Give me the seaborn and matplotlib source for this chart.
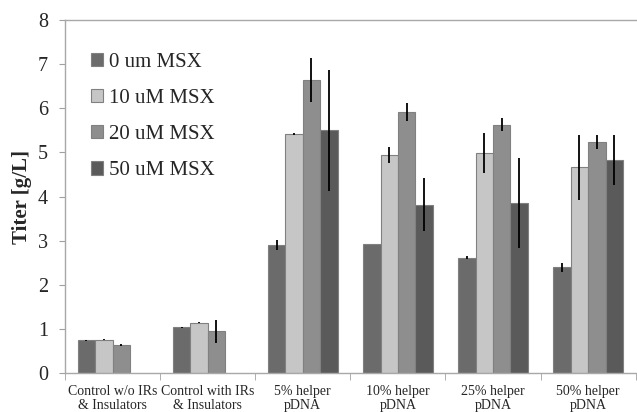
import numpy as np
import pandas as pd
import seaborn as sns
import matplotlib.pyplot as plt
from matplotlib.patches import Patch

# groups on the x axis
groups = ['Control w/o IRs\n& Insulators', 'Control with IRs\n& Insulators',
          '5% helper\npDNA', '10% helper\npDNA', '25% helper\npDNA', '50% helper\npDNA']
levels = ['0 um MSX', '10 uM MSX', '20 uM MSX', '50 uM MSX']

# titer values (g/L), NaN = not measured
titer_0 = [0.74, 1.03, 2.90, 2.92, 2.61, 2.39]
titer_10 = [0.75, 1.14, 5.42, 4.94, 4.99, 4.66]
titer_20 = [0.63, 0.94, 6.65, 5.92, 5.63, 5.24]
titer_50 = [np.nan, np.nan, 5.50, 3.81, 3.85, 4.83]

# error bar half-lengths
err_0 = [0.01, 0.02, 0.12, 0.0, 0.03, 0.10]
err_10 = [0.01, 0.01, 0.02, 0.18, 0.45, 0.74]
err_20 = [0.03, 0.27, 0.50, 0.20, 0.14, 0.16]
err_50 = [np.nan, np.nan, 1.38, 0.60, 1.02, 0.57]

colors = ['#6b6b6b', '#c6c6c6', '#8e8e8e', '#5a5a5a']

rows = []
for lev, vals, errs in zip(levels, [titer_0, titer_10, titer_20, titer_50],
                           [err_0, err_10, err_20, err_50]):
    for g, v, e in zip(groups, vals, errs):
        rows.append({'group': g, 'level': lev, 'titer': v, 'err': e})
df = pd.DataFrame(rows).dropna()

sns.set_style('white')
plt.rcParams['font.family'] = ['Liberation Serif', 'DejaVu Serif']

fig, ax = plt.subplots(figsize=(6.37, 4.12), dpi=100)
fig.subplots_adjust(left=0.102, right=0.998, top=0.951, bottom=0.095)

sns.barplot(data=df, x='group', y='titer', hue='level', order=groups,
            hue_order=levels, palette=colors, errorbar=None, width=0.73,
            edgecolor='#808080', linewidth=0.8, legend=False, ax=ax)

# error bars on top of each bar
for lev, cont in zip(levels, ax.containers):
    sub = df[df['level'] == lev].set_index('group').reindex(
        [g for g in groups if g in df[df['level'] == lev]['group'].values])
    for bar, e in zip(cont, sub['err']):
        if e > 0:
            ax.errorbar(bar.get_x() + bar.get_width() / 2, bar.get_height(),
                        yerr=e, fmt='none', ecolor='black', elinewidth=1.3,
                        capsize=0)

ax.set_ylim(0, 8)
ax.set_xlim(-0.5, len(groups) - 0.5)
ax.set_yticks(range(0, 9))
ax.tick_params(axis='y', labelsize=14.5, length=4.3, color='#a0a0a0', direction='out',
               left=True, pad=8)
ax.tick_params(axis='x', which='major', labelsize=10, length=0, pad=9)
ax.set_xticks(np.arange(-0.5, len(groups), 1), minor=True)
ax.tick_params(axis='x', which='minor', length=5, color='#a0a0a0',
               direction='out', bottom=True)
for lbl in ax.get_xticklabels():
    lbl.set_linespacing(1.05)
ax.set_xlabel('')
ax.set_ylabel('Titer [g/L]', fontsize=15, fontweight='bold', labelpad=4)

for s in ['left', 'bottom', 'top']:
    ax.spines[s].set_color('#a8a8a8')
    ax.spines[s].set_linewidth(1.0)
ax.spines['right'].set_visible(False)

handles = [Patch(facecolor=c, edgecolor='#808080', linewidth=0.8) for c in colors]
ax.legend(handles, levels, loc='upper left', bbox_to_anchor=(0.012, 0.96),
          frameon=False, fontsize=15, handlelength=0.6, handleheight=0.6,
          handletextpad=0.3, labelspacing=0.82)

plt.savefig('out.png', dpi=100)
